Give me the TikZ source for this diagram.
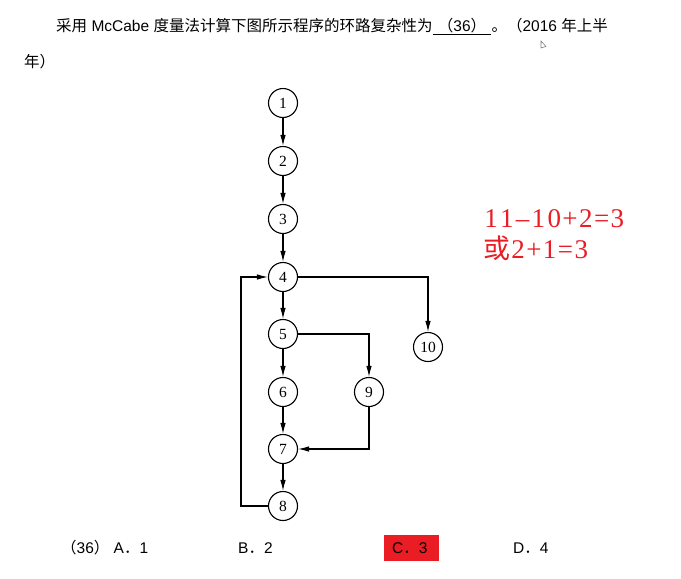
\documentclass[tikz,border=0pt]{standalone}
\usepackage{fontspec}
\setmainfont{Liberation Sans}
\newfontfamily\cjk{Noto Sans CJK SC}
\newfontfamily\numfont{Liberation Serif}
\usetikzlibrary{arrows.meta,positioning}
\definecolor{markred}{RGB}{234,28,36}
\newcommand{\zh}[1]{{\cjk #1}}
\newcommand{\hw}[1]{\makebox[15.8pt]{#1}}

\begin{document}
\begin{tikzpicture}[x=1pt,y=-1pt,
    vtx/.style={draw,circle,line width=1.1pt,minimum size=29pt,inner sep=0pt,
      font=\numfont\fontsize{15.5}{15.5}\selectfont},
    flow/.style={line width=1.1pt,-{Latex[length=11pt,width=5.5pt]}},
    txt/.style={inner sep=0pt,font=\fontsize{15.5}{18}\selectfont},
    calc/.style={anchor=base west,inner sep=0pt,text=markred,font=\numfont\fontsize{27}{30}\selectfont}]
\useasboundingbox (0,0) rectangle (681,579);

% question text
\node[txt,anchor=base west] (Q1) at (56,31) {\zh{采用} McCabe \zh{度量法计算下图所示程序的环路复杂性为}};
\node[txt,anchor=base west] (Blank) at ([xshift=5pt]Q1.base east) {\zh{（}36\zh{）}};
\node[txt,anchor=base west] (Q2) at ([xshift=5pt]Blank.base east) {\zh{。（}2016 \zh{年上半}};
\node[txt,anchor=base west] (Q3) at (24,67) {\zh{年）}};
\draw[line width=0.8pt] ([yshift=-3pt]Q1.base east) -- ([yshift=-3pt]Q2.base west);
\draw[gray,line width=0.6pt] (541,41) -- (541,48) -- (546,46.5) -- cycle;

% flow graph
\node[vtx] (N1) at (283,103) {1};
\node[vtx] (N2) at (283,161) {2};
\node[vtx] (N3) at (283,219) {3};
\node[vtx] (N4) at (283,277) {4};
\node[vtx] (N5) at (283,334) {5};
\node[vtx] (N6) at (283,392) {6};
\node[vtx] (N7) at (283,449) {7};
\node[vtx] (N8) at (283,506) {8};
\node[vtx] (N9) at (369,392) {9};
\node[vtx] (N10) at (428,347) {10};
\coordinate (Loop) at (241,506);

\draw[flow] (N1) -- (N2);
\draw[flow] (N2) -- (N3);
\draw[flow] (N3) -- (N4);
\draw[flow] (N4) -- (N5);
\draw[flow] (N5) -- (N6);
\draw[flow] (N6) -- (N7);
\draw[flow] (N7) -- (N8);
\draw[flow] (N4) -| (N10);
\draw[flow] (N5) -| (N9);
\draw[flow] (N9) |- (N7);
\draw[flow] (N8) -- (Loop) |- (N4);

% answer
\node[calc] (Calc1) at (483,227) {\hw{1}\hw{1}\hw{\textendash}\hw{1}\hw{0}\hw{+}\hw{2}\hw{=}\hw{3}};
\node[calc] (Calc2) at (483,258) {{\cjk\fontsize{27}{30}\selectfont 或}\hw{2}\hw{+}\hw{1}\hw{=}\hw{3}};

% options
\node[txt,anchor=base west] (OptA) at (61,553) {\zh{（}36\zh{）} A\zh{．}1};
\node[txt,anchor=base west] (OptB) at (238,553) {B\zh{．}2};
\node[fill=markred,minimum width=55pt,minimum height=26pt,inner sep=0pt] (Box) at (411.5,548) {};
\node[txt,anchor=base west] (OptC) at (392,553) {C\zh{．}3};
\node[txt,anchor=base west] (OptD) at (513,553) {D\zh{．}4};
\end{tikzpicture}
\end{document}
